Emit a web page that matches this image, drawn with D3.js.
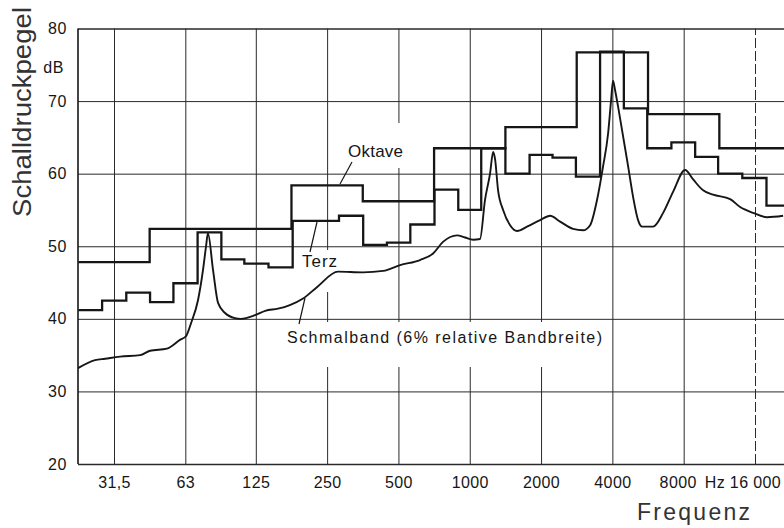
<!DOCTYPE html>
<html>
<head>
<meta charset="utf-8">
<script src="https://cdn.jsdelivr.net/npm/d3@7"></script>
<style>
    html, body { margin: 0; padding: 0; background: #fff; }
    svg { display: block; font-family: "Liberation Sans", Arial, sans-serif; }
</style>
</head>
<body>
<svg id="chart" width="784" height="528"></svg>
<script>
// Frequency axis (octave centre frequencies) and level axis
const ticksHz = [31.5, 63, 125, 250, 500, 1000, 2000, 4000, 8000, 16000];
const tickLabels = ["31,5", "63", "125", "250", "500", "1000", "2000", "4000", "8000", "16 000"];
const dbTicks = [20, 30, 40, 50, 60, 70, 80];

// Octave band levels
const oktaveHz = [31.5, 63, 125, 250, 500, 1000, 2000, 4000, 8000, 16000];
const oktaveDb = [47.8, 52.4, 52.4, 58.4, 56.2, 63.5, 66.4, 76.7, 68.2, 63.5];

// Third-octave band levels
const terzHz = [25, 31.5, 40, 50, 63, 80, 100, 125, 160, 200, 250, 315, 400, 500, 630, 800,
    1000, 1250, 1600, 2000, 2500, 3150, 4000, 5000, 6300, 8000, 10000, 12500, 16000, 20000];
const terzDb = [41.2, 42.5, 43.6, 42.3, 44.9, 51.9, 48.2, 47.6, 47.1, 53.5, 53.5, 54.2, 50.2, 50.5, 53.0, 57.8,
    55.0, 63.5, 60.0, 62.6, 62.2, 59.6, 76.8, 69.0, 63.5, 64.3, 62.3, 60.0, 59.4, 55.6];

// Narrow band (6 % relative bandwidth) spectrum
const schmalHz = [22.2, 26.2, 28.9, 33.4, 40.6, 44.7, 52.7, 59.8, 63.4, 66.6, 71.3, 74.8, 77.0, 78.5,
    82.5, 86.6, 92.7, 102, 108, 124, 137, 155, 174, 198, 227, 278, 354, 431, 508, 617, 700, 771,
    884, 955, 1033, 1105, 1160, 1218, 1255, 1279, 1317, 1383, 1480, 1584, 1745, 1982, 2184, 2406,
    2731, 3010, 3222, 3447, 3654, 3836, 3950, 4026, 4107, 4230, 4441, 4662, 4892, 5135, 5339, 5944,
    6552, 7217, 8111, 8770, 9664, 10647, 12566, 13847, 15712, 18000, 21030];
const schmalDb = [33.2, 34.3, 34.5, 34.8, 35.0, 35.6, 35.9, 37.1, 37.6, 39.4, 42.6, 46.7, 49.9, 51.8,
    46.7, 42.2, 40.8, 40.1, 40.0, 40.5, 41.1, 41.4, 41.9, 42.8, 44.4, 46.5, 46.4, 46.6, 47.4, 48.1, 49.0, 50.6,
    51.5, 51.2, 50.9, 51.0, 56.4, 60.0, 63.0, 62.0, 57.7, 55.0, 52.9, 52.1, 52.7, 53.6, 54.2, 53.4,
    52.4, 52.2, 52.9, 56.4, 61.0, 65.5, 70.1, 72.8, 71.5, 69.2, 65.1, 61.0, 56.8, 53.6, 52.7, 52.7,
    54.6, 57.5, 60.5, 59.2, 57.7, 57.1, 56.5, 55.4, 54.6, 54.0, 54.2];

const L = 78, R = 784, T = 28.5, B = 464;
const ink = "#161616";

const x = d3.scaleLog().base(2).domain([31.5, 16000]).range([114, 755]);
const y = d3.scaleLinear().domain([20, 80]).range([B, T]);

const svg = d3.select("#chart");
svg.append("rect").attr("width", 784).attr("height", 528).attr("fill", "#fff");

// vertical grid + frequency labels
const gx = svg.append("g")
    .attr("transform", `translate(0,${B})`)
    .call(d3.axisBottom(x).tickValues(ticksHz).tickSize(-(B - T)).tickPadding(13)
        .tickFormat((d, i) => tickLabels[i]));
gx.select(".domain").remove();
gx.selectAll("line").attr("stroke", "#2a2a2a").attr("stroke-width", 1)
    .attr("stroke-dasharray", d => d === 16000 ? "10,3" : null);
gx.selectAll("text").attr("font-size", 16).attr("fill", ink).attr("letter-spacing", 0.4);
gx.selectAll(".tick").filter(d => d === 8000).select("text").attr("dx", -6);

// horizontal grid + level labels
const gy = svg.append("g")
    .attr("transform", `translate(${L},0)`)
    .call(d3.axisLeft(y).tickValues(dbTicks).tickSize(-(R - L)).tickPadding(11));
gy.select(".domain").remove();
gy.selectAll("line").attr("stroke", "#2a2a2a")
    .attr("stroke-width", d => (d === 20 || d === 80) ? 1.6 : 1);
gy.selectAll("text").attr("font-size", 16).attr("fill", ink).attr("letter-spacing", 0.6);

// left border
svg.append("line").attr("x1", L).attr("x2", L).attr("y1", T).attr("y2", B)
    .attr("stroke", ink).attr("stroke-width", 1.6);

// label knock-outs (grid is interrupted behind the labels)
const knock = [[343, 123, 66, 45], [297, 250, 44, 42], [283, 322, 324, 45]];
svg.append("g").selectAll("rect").data(knock).join("rect")
    .attr("x", d => d[0]).attr("y", d => d[1]).attr("width", d => d[2]).attr("height", d => d[3])
    .attr("fill", "#fff");

// curves
svg.append("clipPath").attr("id", "plot")
    .append("rect").attr("x", L).attr("y", T - 5).attr("width", R - L).attr("height", B - T + 5);
const plot = svg.append("g").attr("clip-path", "url(#plot)");

function stepPoints(freqs, levels) {
    const cx = freqs.map(f => x(f));
    const n = cx.length;
    const edges = [cx[0] - (cx[1] - cx[0]) / 2];
    for (let i = 1; i < n; i++) edges.push((cx[i - 1] + cx[i]) / 2);
    edges.push(cx[n - 1] + (cx[n - 1] - cx[n - 2]) / 2);
    const pts = [];
    levels.forEach((v, i) => {
        pts.push([edges[i], y(v)], [edges[i + 1], y(v)]);
    });
    return pts;
}

const stepLine = d3.line();
plot.append("path").attr("d", stepLine(stepPoints(oktaveHz, oktaveDb)))
    .attr("fill", "none").attr("stroke", ink).attr("stroke-width", 2.3).attr("stroke-linejoin", "miter");
plot.append("path").attr("d", stepLine(stepPoints(terzHz, terzDb)))
    .attr("fill", "none").attr("stroke", ink).attr("stroke-width", 2.3).attr("stroke-linejoin", "miter");

const smooth = d3.line().x((d, i) => x(schmalHz[i])).y(d => y(d)).curve(d3.curveMonotoneX);
plot.append("path").attr("d", smooth(schmalDb))
    .attr("fill", "none").attr("stroke", ink).attr("stroke-width", 1.9).attr("stroke-linejoin", "round");

// curve labels with leader lines
const notes = [
    { text: "Oktave", x: 348, y: 157, len: 55, size: 17, lead: [340, 184, 352, 162] },
    { text: "Terz", x: 302, y: 267, len: 35, size: 17, lead: [317, 222, 310, 252] },
    { text: "Schmalband (6% relative Bandbreite)", x: 287, y: 343, len: 315, size: 16, lead: [305, 298, 299, 324] }
];
svg.append("g").selectAll("text").data(notes).join("text")
    .attr("x", d => d.x).attr("y", d => d.y).attr("font-size", d => d.size)
    .attr("textLength", d => d.len).attr("lengthAdjust", "spacing")
    .attr("fill", ink).text(d => d.text);
svg.append("g").selectAll("line").data(notes).join("line")
    .attr("x1", d => d.lead[0]).attr("y1", d => d.lead[1])
    .attr("x2", d => d.lead[2]).attr("y2", d => d.lead[3])
    .attr("stroke", ink).attr("stroke-width", 1.2);

// units and axis titles
svg.append("text").attr("x", 64).attr("y", 67).attr("dy", "0.35em").attr("text-anchor", "end")
    .attr("font-size", 16).attr("letter-spacing", 0.6).attr("fill", ink).text("dB");
svg.append("text").attr("x", x(8000) + 21).attr("y", B + 13).attr("dy", "0.71em")
    .attr("font-size", 16).attr("letter-spacing", 0.4).attr("fill", ink).text("Hz");
svg.append("text").attr("transform", "translate(31,112) rotate(-90)")
    .attr("text-anchor", "middle").attr("font-size", 25)
    .attr("textLength", 210).attr("lengthAdjust", "spacingAndGlyphs")
    .attr("fill", "#333").text("Schalldruckpegel");
svg.append("text").attr("x", 637).attr("y", 520).attr("font-size", 23)
    .attr("textLength", 113).attr("lengthAdjust", "spacing")
    .attr("fill", "#333").text("Frequenz");
</script>
</body>
</html>
